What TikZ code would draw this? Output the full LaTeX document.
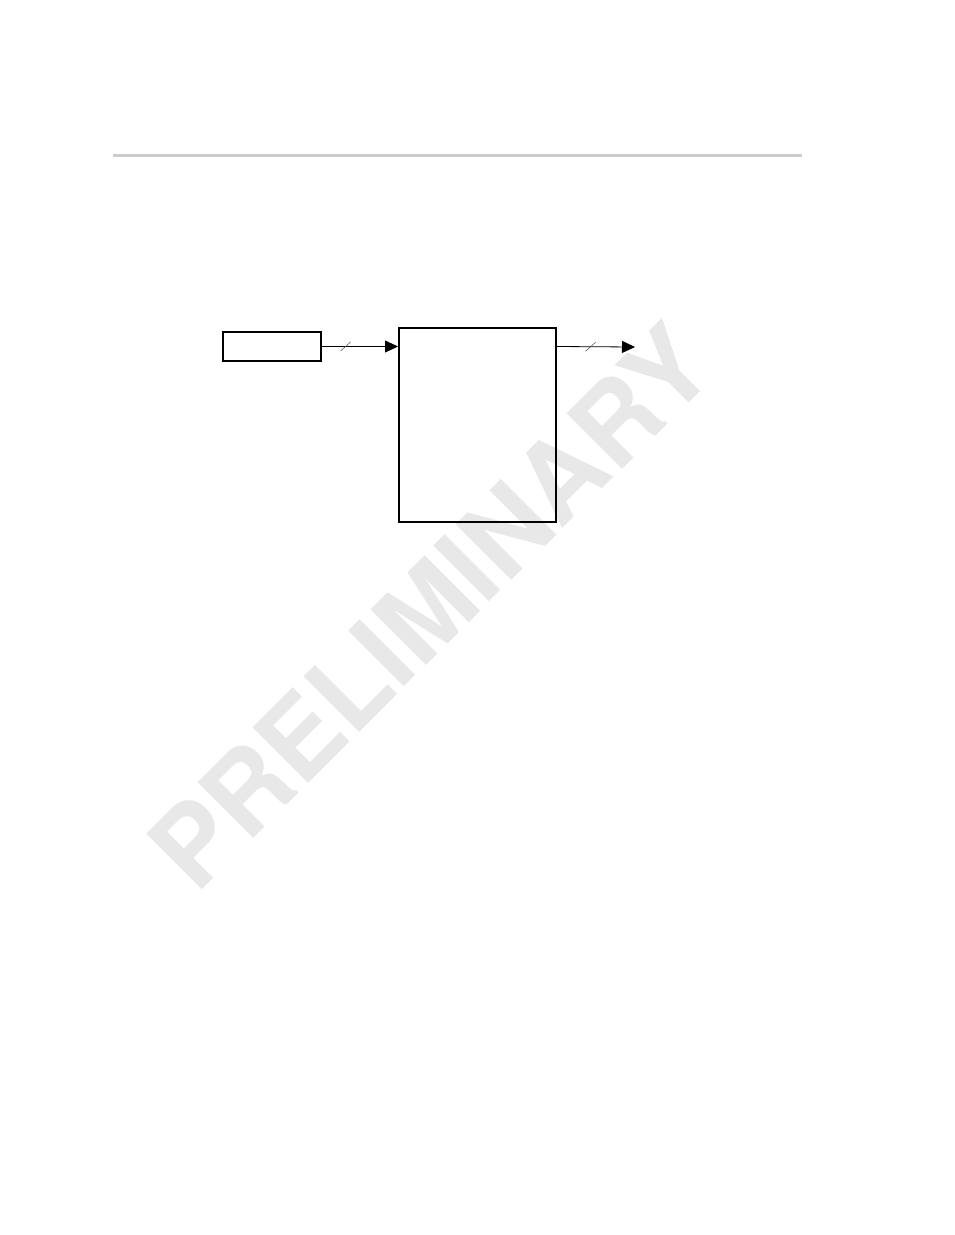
\documentclass[tikz,border=0pt]{standalone}
\usepackage{fontspec}
\newfontfamily\wmfont{TeX Gyre Heros}
\usepackage{tikz}
\usetikzlibrary{positioning,calc,arrows.meta}
\usetikzlibrary{decorations.markings}
\definecolor{wmgray}{gray}{0.91}
\definecolor{rulegray}{gray}{0.8}

\begin{document}
\begin{tikzpicture}[x=1pt,y=-1pt,
blockbox/.style={rectangle, draw=black, line width=2pt, inner sep=0pt},
busline/.style={line width=0.8pt, -{Triangle[length=13pt,width=12pt]}},
slashat/.style={postaction={decorate}, decoration={markings,
  mark=at position #1 with {\draw[black!70, line width=0.5pt, -] (-5pt,-4.5pt) -- (5pt,4.5pt);}}},
]
\useasboundingbox (0,0) rectangle (954,1235);
%Watermark
\node[text=wmgray, font=\wmfont\bfseries\fontsize{108}{108}\selectfont, inner sep=0pt, rotate=45] (mark) at (430,606) {PRELIMINARY};
%Header rule
\draw[rulegray, line width=3pt] (113,155) -- (802,155);

%Nodes
\node[blockbox, minimum width=98pt, minimum height=29pt]  (source) at (272,346.5) {};
\node[blockbox, minimum width=157pt, minimum height=194pt] (block)  at (477.5,425) {};
\coordinate (output) at (635,347);

%Lines
\draw[busline, slashat=0.31] (source.east) -- (source.east -| block.west);
\draw[busline, slashat=0.43] (block.east |- source.east) -- (output);
\end{tikzpicture}
\end{document}
